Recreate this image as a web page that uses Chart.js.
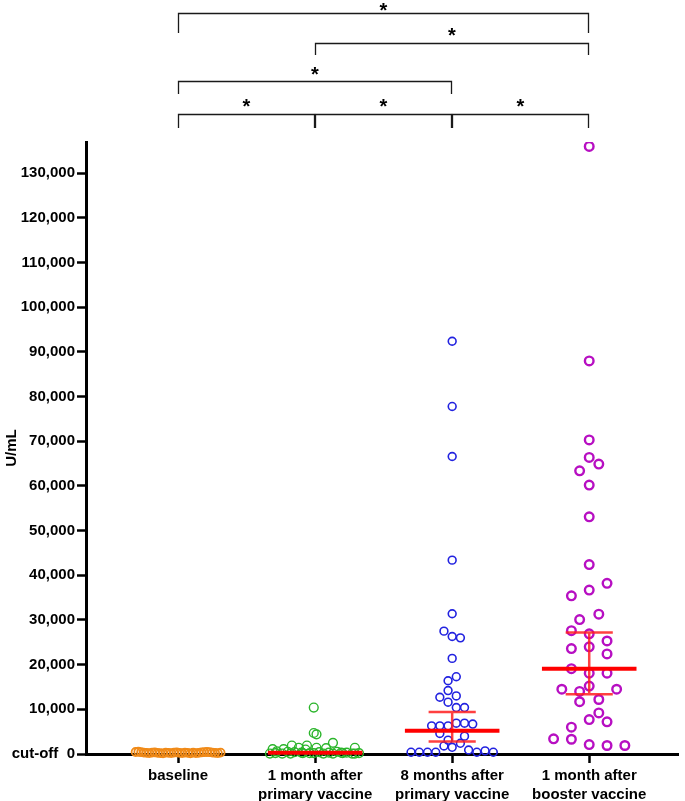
<!DOCTYPE html>
<html>
<head>
<meta charset="utf-8">
<script src="https://cdn.jsdelivr.net/npm/chart.js@4.4.1/dist/chart.umd.min.js"></script>
<style>
  html, body { margin: 0; padding: 0; background: #fff; overflow: hidden; }
  canvas { display: block; }
</style>
</head>
<body>
<canvas id="dotChart" width="685" height="801"></canvas>
<script>
// groups on the x axis
var groupLabels = [
    ['baseline'],
    ['1 month after', 'primary vaccine'],
    ['8 months after', 'primary vaccine'],
    ['1 month after', 'booster vaccine']
];

// U/mL values, with horizontal spread (fraction of a group slot)
var baselineValues = [450, 500, 400, 300, 250, 200, 300, 350, 250, 200, 150, 300, 250, 200, 300, 350,
                      250, 200, 300, 250, 150, 300, 200, 250, 350, 400, 450, 400, 300, 250, 200, 300];
var baselineJitter = [-0.31, -0.29, -0.27, -0.25, -0.23, -0.21, -0.19, -0.17, -0.15, -0.13, -0.11, -0.09, -0.07, -0.05, -0.03, -0.01,
                      0.01, 0.03, 0.05, 0.07, 0.09, 0.11, 0.13, 0.15, 0.17, 0.19, 0.21, 0.23, 0.25, 0.27, 0.29, 0.31];

var month1Values = [10400, 4700, 4400, 2500, 1900, 1900, 1400, 1400, 1400, 1300, 1100, 1100, 1000,
                    600, 500, 400, 300, 200, 400, 300, 500, 200, 300, 100, 200, 100, 200, 100, 100, 200, 100, 100, 300, 200, 100];
var month1Jitter = [-0.01, -0.01, 0.01, 0.13, -0.17, -0.06, 0.29, 0.01, -0.12, 0.08, -0.31, -0.23, -0.07,
                    -0.28, -0.2, -0.15, -0.1, -0.04, 0.03, 0.1, 0.16, 0.2, 0.23, 0.27, 0.32, -0.33, -0.29, -0.24, -0.18, -0.01, 0.06, 0.13, 0.19, -0.09, 0.29];

var month8Values = [92400, 77800, 66600, 43400, 31400, 27500, 26300, 26000, 21400, 17300, 16400, 14200, 13000, 12700,
                    11600, 10400, 10400, 6900, 6900, 6700, 6300, 6300, 6300, 4600, 4000, 3100, 2400, 1800, 1500,
                    900, 700, 400, 400, 400, 400, 400, 400];
var month8Jitter = [0, 0, 0, 0, 0, -0.06, 0, 0.06, 0, 0.03, -0.03, -0.03, 0.03, -0.09,
                    -0.03, 0.03, 0.09, 0.03, 0.09, 0.15, -0.15, -0.09, -0.03, -0.09, 0.09, -0.03, 0.06, -0.06, 0,
                    0.12, 0.24, 0.18, 0.3, -0.12, -0.18, -0.24, -0.3];

var boosterValues = [136000, 88000, 70300, 66400, 64900, 63400, 60200, 53100, 42400, 38200, 36700, 35400, 31300,
                     30100, 27600, 26900, 25300, 24000, 23600, 22400, 19100, 18100, 18100, 15200, 14500, 14000,
                     14500, 12200, 11700, 9200, 7700, 7200, 6000, 3400, 3300, 2100, 1900, 1900];
var boosterJitter = [0, 0, 0, 0, 0.07, -0.07, 0, 0, 0, 0.13, 0, -0.13, 0.07,
                     -0.07, -0.13, 0, 0.13, 0, -0.13, 0.13, -0.13, 0, 0.13, 0, -0.2, -0.07,
                     0.2, 0.07, -0.07, 0.07, 0, 0.13, -0.13, -0.26, -0.13, 0, 0.13, 0.26];

// median and interquartile range per group
var medianValues = [null, 300, 5200, 19100];
var q1Values = [null, null, 2800, 13400];
var q3Values = [null, null, 9400, 27200];

// y axis ticks
var yTickValues = [0, 10000, 20000, 30000, 40000, 50000, 60000, 70000, 80000, 90000, 100000, 110000, 120000, 130000];
var zeroLabel = 'cut-off';

// significance brackets: [from group, to group], row (0 = top), label
var bracketPairs = [[0, 3], [1, 3], [0, 2], [0, 1], [1, 2], [2, 3]];
var bracketRows = [0, 1, 2, 3, 3, 3];
var bracketLabels = ['*', '*', '*', '*', '*', '*'];

function toPoints(values, jitter, group) {
    return values.map(function (v, i) {
        return { x: group + jitter[i], y: v };
    });
}

var fontFamily = "'Liberation Sans', Arial, sans-serif";

var medianPlugin = {
    id: 'medianBars',
    afterDatasetsDraw: function (chart) {
        var ctx = chart.ctx;
        var xs = chart.scales.x;
        var ys = chart.scales.y;
        ctx.save();
        for (var i = 0; i < medianValues.length; i++) {
            if (medianValues[i] === null) continue;
            var cx = xs.getPixelForValue(i);
            var half = xs.getPixelForValue(i + 0.345) - cx;
            var capHalf = xs.getPixelForValue(i + 0.172) - cx;
            if (q1Values[i] !== null && q3Values[i] !== null) {
                var y1 = ys.getPixelForValue(q1Values[i]);
                var y3 = ys.getPixelForValue(q3Values[i]);
                ctx.strokeStyle = 'rgba(255, 30, 30, 0.85)';
                ctx.lineWidth = 2.5;
                ctx.beginPath();
                ctx.moveTo(cx, y1); ctx.lineTo(cx, y3);
                ctx.moveTo(cx - capHalf, y1); ctx.lineTo(cx + capHalf, y1);
                ctx.moveTo(cx - capHalf, y3); ctx.lineTo(cx + capHalf, y3);
                ctx.stroke();
            }
            var my = ys.getPixelForValue(medianValues[i]);
            ctx.strokeStyle = '#ff0000';
            ctx.lineWidth = 4;
            ctx.beginPath();
            ctx.moveTo(cx - half, my); ctx.lineTo(cx + half, my);
            ctx.stroke();
        }
        ctx.restore();
    }
};

var bracketPlugin = {
    id: 'brackets',
    afterDraw: function (chart) {
        var ctx = chart.ctx;
        var xs = chart.scales.x;
        var rowLine = [13, 43, 81, 114];   // y of the horizontal line per row
        var rowLeg = [33, 55, 94, 128];    // y where the legs end
        var rowStar = [17, 42, 81, 113];   // text baseline of the star
        ctx.save();
        ctx.strokeStyle = '#1a1a1a';
        ctx.lineWidth = 1.3;
        ctx.fillStyle = '#000';
        ctx.font = 'bold 20px ' + fontFamily;
        ctx.textAlign = 'center';
        ctx.textBaseline = 'alphabetic';
        for (var i = 0; i < bracketPairs.length; i++) {
            var xa = Math.round(xs.getPixelForValue(bracketPairs[i][0])) + 0.5;
            var xb = Math.round(xs.getPixelForValue(bracketPairs[i][1])) - 0.5;
            var yl = rowLine[bracketRows[i]] + 0.5;
            var yg = rowLeg[bracketRows[i]];
            ctx.beginPath();
            ctx.moveTo(xa, yg); ctx.lineTo(xa, yl); ctx.lineTo(xb, yl); ctx.lineTo(xb, yg);
            ctx.stroke();
            ctx.fillText(bracketLabels[i], (xa + xb) / 2, rowStar[bracketRows[i]]);
        }
        ctx.restore();
    }
};

var ctx = document.getElementById('dotChart').getContext('2d');
var dotChart = new Chart(ctx, {
    type: 'scatter',
    data: {
        datasets: [{
            label: 'baseline',
            data: toPoints(baselineValues, baselineJitter, 0),
            borderColor: '#f08a18',
            backgroundColor: 'rgba(0, 0, 0, 0)',
            pointRadius: 4,
            borderWidth: 1.8,
            clip: { left: 20, top: 0, right: 20, bottom: 12 }
        }, {
            label: '1 month after primary vaccine',
            data: toPoints(month1Values, month1Jitter, 1),
            borderColor: '#2bb52b',
            backgroundColor: 'rgba(0, 0, 0, 0)',
            pointRadius: 4.4,
            borderWidth: 1.4,
            clip: { left: 20, top: 0, right: 20, bottom: 12 }
        }, {
            label: '8 months after primary vaccine',
            data: toPoints(month8Values, month8Jitter, 2),
            borderColor: '#2222e0',
            backgroundColor: 'rgba(0, 0, 0, 0)',
            pointRadius: 3.9,
            borderWidth: 1.6,
            clip: { left: 20, top: 0, right: 20, bottom: 12 }
        }, {
            label: '1 month after booster vaccine',
            data: toPoints(boosterValues, boosterJitter, 3),
            borderColor: '#b70fc2',
            backgroundColor: 'rgba(0, 0, 0, 0)',
            pointRadius: 4.3,
            borderWidth: 2.4,
            clip: { left: 20, top: 0, right: 20, bottom: 12 }
        }]
    },
    options: {
        responsive: false,
        animation: false,
        layout: {
            padding: { top: 142, right: 0, bottom: 0, left: 0 }
        },
        plugins: {
            legend: { display: false },
            tooltip: { enabled: false }
        },
        scales: {
            x: {
                type: 'linear',
                min: -0.672,
                max: 3.65,
                afterBuildTicks: function (scale) {
                    scale.ticks = groupLabels.map(function (l, i) { return { value: i }; });
                },
                afterFit: function (scale) { scale.height = 47; },
                ticks: {
                    autoSkip: false,
                    maxRotation: 0,
                    padding: 3,
                    color: '#000',
                    font: { family: fontFamily, size: 15, weight: 'bold', lineHeight: 1.27 },
                    callback: function (value) { return groupLabels[value]; }
                },
                grid: {
                    drawOnChartArea: false,
                    drawTicks: true,
                    tickLength: 9,
                    tickWidth: 2.5,
                    tickColor: '#000'
                },
                border: { display: true, width: 3, color: '#000' }
            },
            y: {
                min: 0,
                max: 137000,
                afterBuildTicks: function (scale) {
                    scale.ticks = yTickValues.map(function (v) { return { value: v }; });
                },
                afterFit: function (scale) { scale.width = 86; },
                ticks: {
                    padding: 2,
                    color: '#000',
                    font: { family: fontFamily, size: 15, weight: 'bold' },
                    callback: function (value) {
                        return value === 0 ? zeroLabel + '  0' : value.toLocaleString('en-US');
                    }
                },
                grid: {
                    drawOnChartArea: false,
                    drawTicks: true,
                    tickLength: 9,
                    tickWidth: 2.5,
                    tickColor: '#000'
                },
                border: { display: true, width: 3, color: '#000' },
                title: {
                    display: true,
                    text: 'U/mL',
                    color: '#000',
                    padding: { top: 3, bottom: 0 },
                    font: { family: fontFamily, size: 15, weight: 'bold' }
                }
            }
        }
    },
    plugins: [medianPlugin, bracketPlugin]
});
</script>
</body>
</html>
